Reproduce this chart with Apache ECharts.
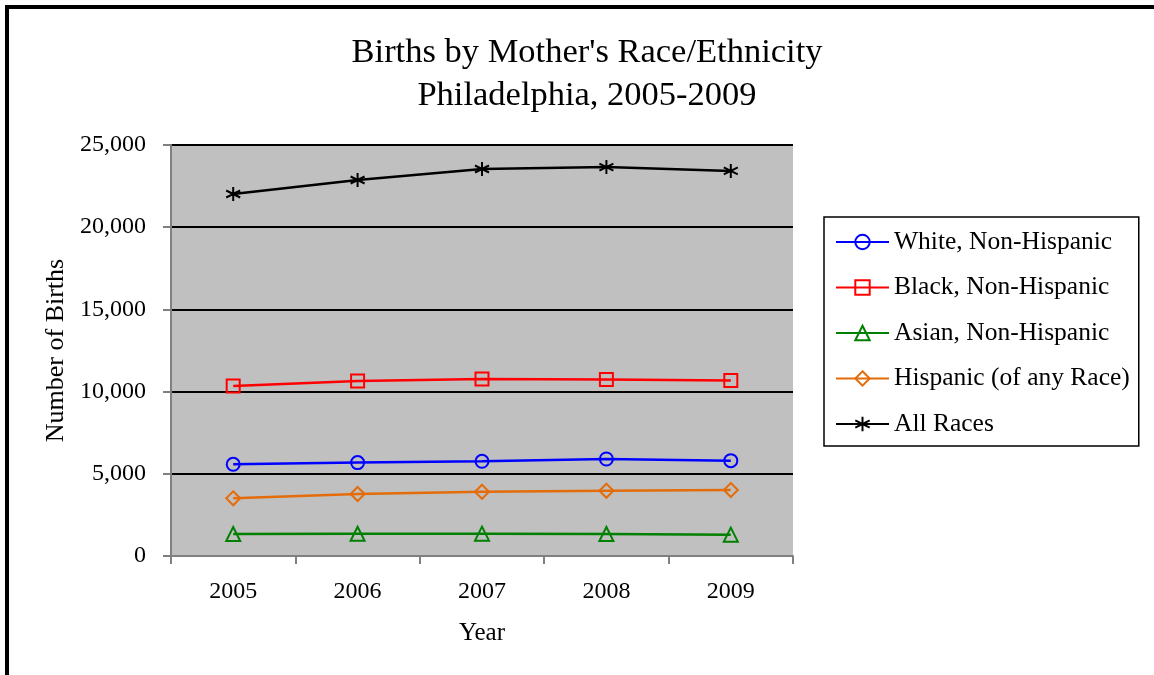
<!DOCTYPE html>
<html>
<head>
<meta charset="utf-8">
<script src="https://cdn.jsdelivr.net/npm/echarts@6/dist/echarts.min.js"></script>
<style>
  html, body { margin: 0; padding: 0; background: #fff; }
  #container { width: 1154px; height: 675px; }
</style>
</head>
<body>
<div id="container"></div>
<script>
// chart data
var years = ['2005', '2006', '2007', '2008', '2009']
var white = [5580, 5680, 5760, 5900, 5800]
var black = [10340, 10650, 10770, 10740, 10680]
var asian = [1340, 1350, 1360, 1340, 1300]
var hispanic = [3510, 3770, 3910, 3970, 4010]
var allRaces = [22020, 22870, 23540, 23660, 23420]
var yTicks = [0, 5000, 10000, 15000, 20000, 25000]

var FONT = 'Liberation Serif'
// asterisk marker for "All Races": vertical bar plus an X
var STAR = 'path://M5,0L5,10M0.67,2.5L9.33,7.5M0.67,7.5L9.33,2.5'

function makeSeries(name, data, color, symbol, size) {
  return {
    name: name,
    type: 'line',
    data: data,
    symbol: symbol,
    symbolSize: size,
    showAllSymbol: true,
    lineStyle: { color: color, width: 2.5 },
    itemStyle: { color: 'rgba(0,0,0,0)', borderColor: color, borderWidth: 2 },
    emphasis: { disabled: true }
  }
}

var chart = echarts.init(document.getElementById('container'))
chart.setOption({
  backgroundColor: '#ffffff',
  animation: false,
  textStyle: { fontFamily: FONT, color: '#000' },
  graphic: [
    {
      type: 'rect',
      shape: { x: 7, y: 7, width: 1300, height: 800 },
      style: { fill: 'none', stroke: '#000', lineWidth: 4 },
      silent: true
    }
  ],
  title: {
    text: "Births by Mother's Race/Ethnicity\nPhiladelphia, 2005-2009",
    left: 582,
    textAlign: 'center',
    top: 26,
    textStyle: { fontFamily: FONT, fontWeight: 'normal', fontSize: 34.5, lineHeight: 43, color: '#000' }
  },
  legend: {
    orient: 'vertical',
    left: 824,
    top: 217,
    padding: [12, 9, 9, 11],
    itemGap: 19.5,
    itemWidth: 53,
    itemHeight: 18,
    borderColor: '#000',
    borderWidth: 1.5,
    textStyle: { fontFamily: FONT, fontSize: 25.5, lineHeight: 25, color: '#000' },
    data: ['White, Non-Hispanic', 'Black, Non-Hispanic', 'Asian, Non-Hispanic', 'Hispanic (of any Race)', 'All Races']
  },
  grid: {
    left: 171,
    top: 145,
    width: 622,
    height: 411,
    show: true,
    backgroundColor: '#c0c0c0',
    borderWidth: 0
  },
  xAxis: {
    type: 'category',
    data: years,
    boundaryGap: true,
    name: 'Year',
    nameLocation: 'middle',
    nameGap: 65,
    nameTextStyle: { fontFamily: FONT, fontSize: 25, color: '#000' },
    axisLine: { show: true, lineStyle: { color: '#808080', width: 2 } },
    axisTick: { show: true, length: 8, lineStyle: { color: '#808080', width: 2 } },
    axisLabel: { margin: 24, fontFamily: FONT, fontSize: 24, color: '#000' },
    splitLine: { show: false }
  },
  yAxis: {
    type: 'value',
    min: yTicks[0],
    max: yTicks[yTicks.length - 1],
    interval: 5000,
    name: 'Number of Births',
    nameLocation: 'middle',
    nameGap: 94,
    nameTextStyle: { fontFamily: FONT, fontSize: 26, color: '#000' },
    axisLine: { show: true, lineStyle: { color: '#808080', width: 2 } },
    axisTick: { show: true, length: 8, lineStyle: { color: '#808080', width: 2 } },
    axisLabel: {
      margin: 25,
      fontFamily: FONT,
      fontSize: 24,
      color: '#000',
      formatter: function (v) { return v.toLocaleString('en-US') }
    },
    splitLine: { show: true, lineStyle: { color: '#000', width: 2 } }
  },
  series: [
    makeSeries('White, Non-Hispanic', white, '#0000ff', 'circle', 13),
    makeSeries('Black, Non-Hispanic', black, '#ff0000', 'rect', 13),
    makeSeries('Asian, Non-Hispanic', asian, '#008000', 'triangle', 14),
    makeSeries('Hispanic (of any Race)', hispanic, '#e46c0a', 'diamond', 14),
    makeSeries('All Races', allRaces, '#000000', STAR, 14)
  ]
})
</script>
</body>
</html>
